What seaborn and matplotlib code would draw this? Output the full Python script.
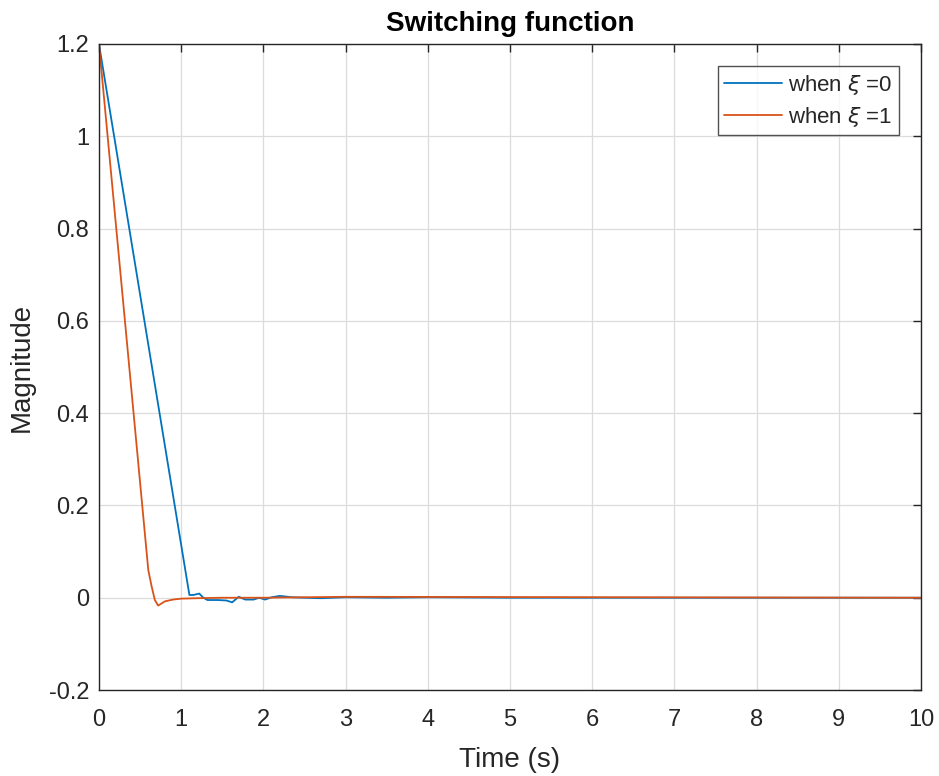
import numpy as np
import pandas as pd
import matplotlib
matplotlib.use("Agg")
import matplotlib.pyplot as plt
import seaborn as sns

# Data
t_xi0 = [0, 1.10, 1.15, 1.22, 1.27, 1.32, 1.45, 1.55, 1.62, 1.70, 1.78, 1.88, 1.95, 2.02, 2.10, 2.20, 2.35, 2.50, 2.70, 3.00, 3.50, 4.00, 5.00, 10.0]
y_xi0 = [1.2, 0.006, 0.006, 0.009, 0.0, -0.005, -0.005, -0.006, -0.01, 0.002, -0.004, -0.004, 0.0, -0.004, 0.001, 0.004, 0.001, 0.0, -0.001, 0.001, 0.0, 0.001, 0.0, 0.0]
t_xi1 = [0, 0.60, 0.64, 0.68, 0.72, 0.80, 0.90, 1.00, 1.20, 1.50, 2.00, 3.00, 10.0]
y_xi1 = [1.2, 0.06, 0.025, -0.005, -0.017, -0.008, -0.004, -0.002, -0.001, 0.0, 0.0, 0.002, 0.0]
series_labels = ["when $\\xi$ =0", "when $\\xi$ =1"]
x_ticks = [0, 1, 2, 3, 4, 5, 6, 7, 8, 9, 10]
y_ticks = [-0.2, 0, 0.2, 0.4, 0.6, 0.8, 1.0, 1.2]
y_tick_labels = ["-0.2", "0", "0.2", "0.4", "0.6", "0.8", "1", "1.2"]

df = pd.concat([
    pd.DataFrame({"t": t_xi0, "y": y_xi0, "s": series_labels[0]}),
    pd.DataFrame({"t": t_xi1, "y": y_xi1, "s": series_labels[1]}),
])

sns.set_style("white")
plt.rcParams["font.family"] = ["Liberation Sans", "DejaVu Sans"]
plt.rcParams["mathtext.fontset"] = "dejavusans"

fig = plt.figure(figsize=(9.39, 7.76), dpi=100)
ax = fig.add_axes([0.1054, 0.1108, 0.8754, 0.8325])
sns.lineplot(data=df, x="t", y="y", hue="s", palette=["#0072BD", "#D95319"],
             ax=ax, linewidth=1.3, sort=False, estimator=None)

ax.set_xlim(0, 10)
ax.set_ylim(-0.2, 1.2)
ax.set_xticks(x_ticks)
ax.set_xticklabels([str(v) for v in x_ticks])
ax.set_yticks(y_ticks)
ax.set_yticklabels(y_tick_labels)
ax.grid(True, color="#dcdcdc", linewidth=0.9)
ax.set_axisbelow(True)
for sp in ax.spines.values():
    sp.set_color("#262626")
    sp.set_linewidth(1.0)
ax.tick_params(direction="in", length=6, width=1.0, colors="#262626",
               labelsize=17, top=True, right=True, labelcolor="#262626")
ax.tick_params(axis="x", pad=14)
ax.tick_params(axis="y", pad=7)
ax.set_xlabel("Time (s)", fontsize=20, color="#262626", labelpad=11)
ax.set_ylabel("Magnitude", fontsize=20, color="#262626", labelpad=10)
ax.set_title("Switching function", fontsize=20, fontweight="bold", color="black", pad=9)

leg = ax.legend(loc="upper right", fontsize=16, frameon=True, fancybox=False,
                edgecolor="#262626", handlelength=2.6, borderaxespad=1.0,
                handletextpad=0.25, labelspacing=0.35, borderpad=0.3, title=None)
leg.get_frame().set_linewidth(1.0)

fig.savefig("out.png", dpi=100, facecolor="white")
